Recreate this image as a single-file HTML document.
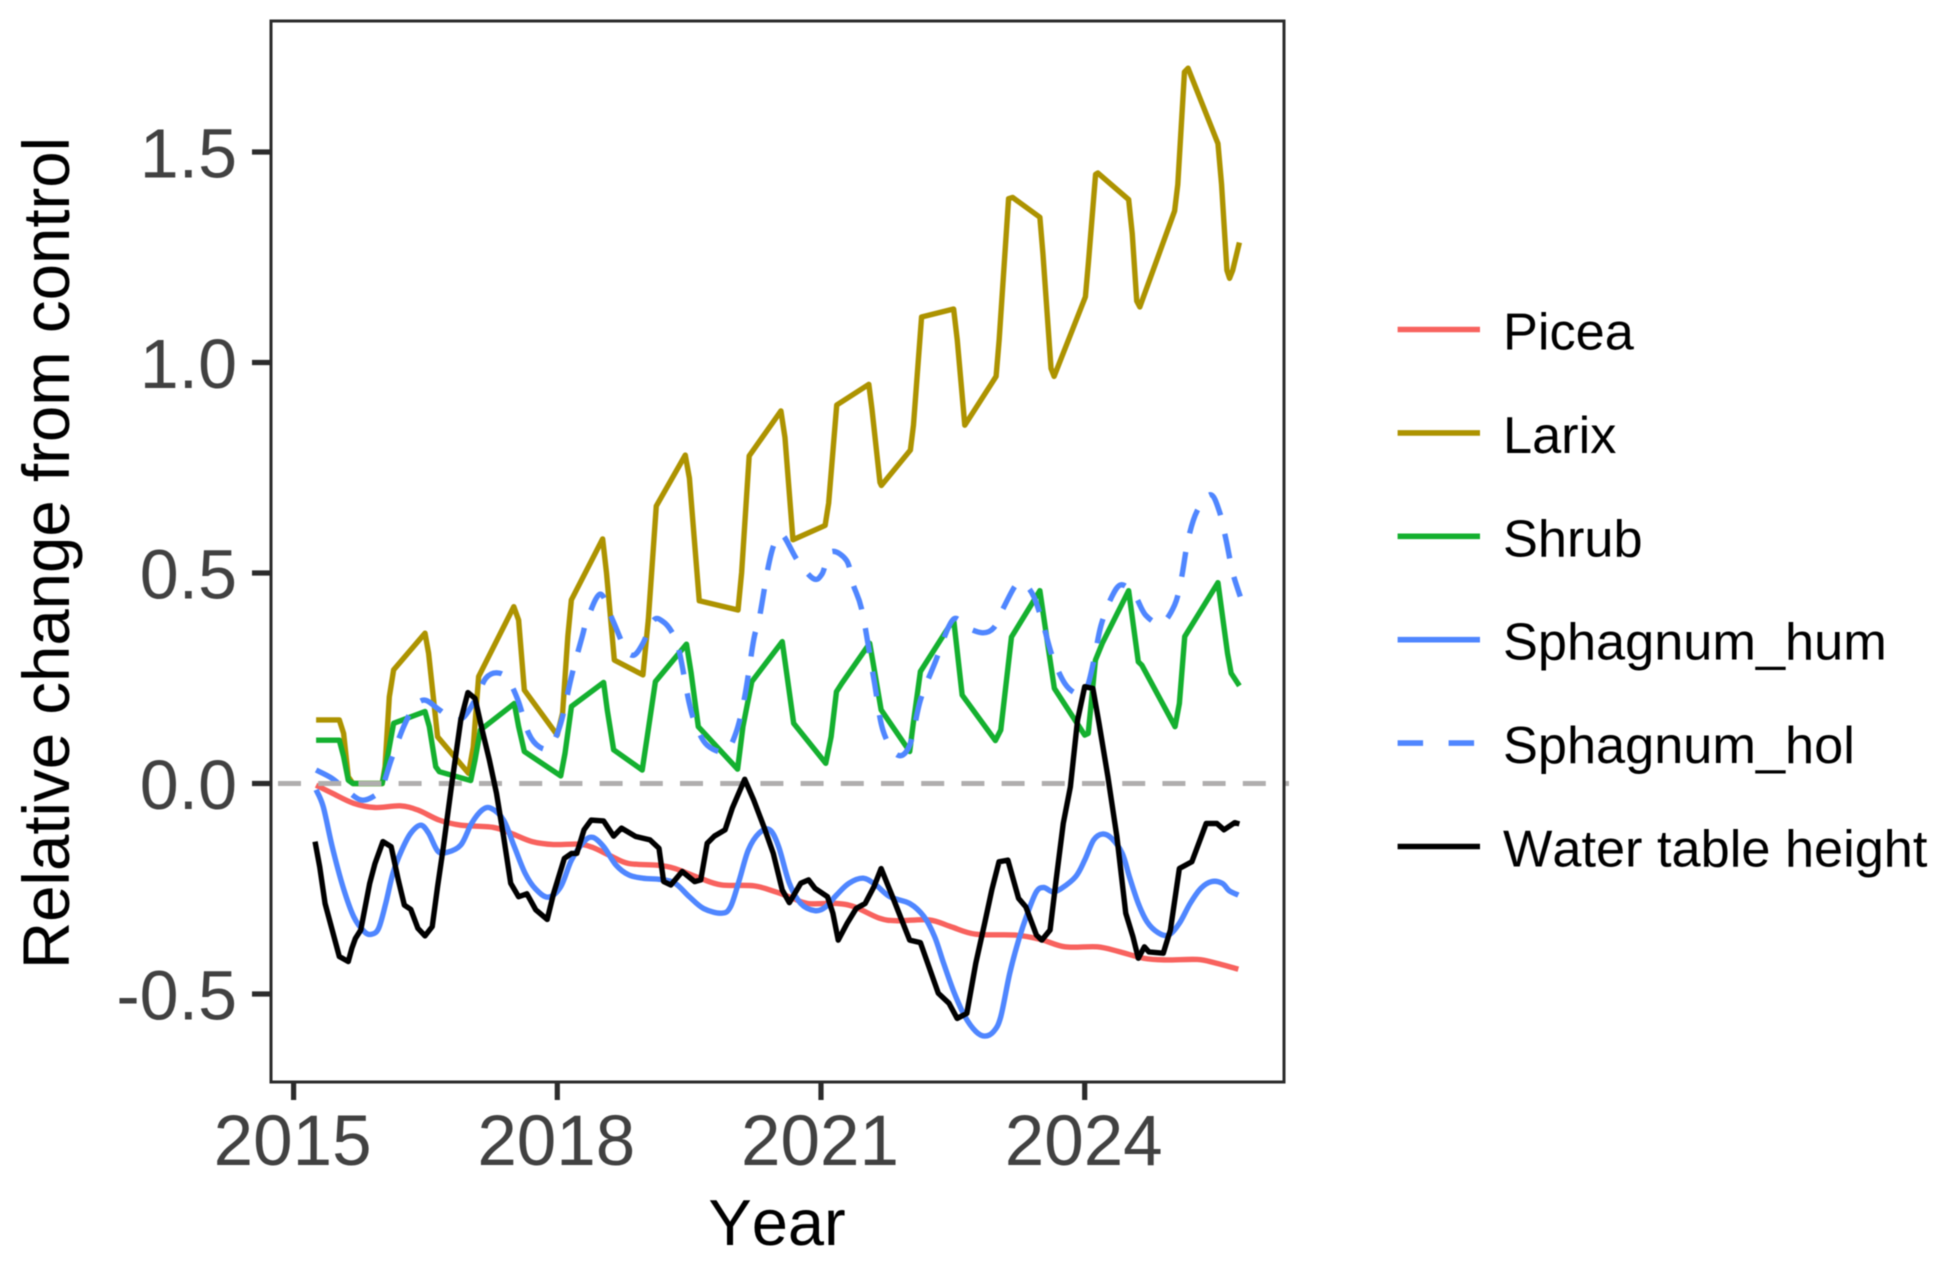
<!DOCTYPE html>
<html lang="en">
<head>
<meta charset="utf-8">
<title>Relative change from control by year</title>
<style>
html,body{margin:0;padding:0;background:#fff;width:1949px;height:1266px;overflow:hidden}
svg{display:block;font-family:"Liberation Sans",Arial,sans-serif;font-kerning:none;filter:blur(0.5px)}
</style>
</head>
<body>
<svg id="chart" xmlns="http://www.w3.org/2000/svg" width="1949" height="1266" viewBox="0 0 1949 1266">
  <rect x="0" y="0" width="1949" height="1266" fill="#fff"/>
  <g id="plot-series"></g>
  <rect x="271" y="21" width="1013" height="1061" fill="none" stroke="#2b2b2b" stroke-width="3"/>
  <g id="ticks"></g>
  <text transform="translate(69 553) rotate(-90)" text-anchor="middle" font-size="65.4" fill="#000">Relative change from control</text>
  <text x="777" y="1245" text-anchor="middle" font-size="65" fill="#000">Year</text>
  <g id="legend"></g>
</svg>
<script>
const xTickYears = [2015, 2018, 2021, 2024];
const yTickValues = [-0.5, 0, 0.5, 1, 1.5];
const yTickLabels = ["-0.5", "0.0", "0.5", "1.0", "1.5"];
const referenceValue = 0;

const piceaYears = [2015.256,2015.439,2015.683,2015.926,2016.211,2016.414,2016.658,2016.902,2017.267,2017.47,2017.714,2017.958,2018.243,2018.405,2018.608,2018.812,2019.137,2019.34,2019.624,2019.868,2020.234,2020.478,2020.648,2020.851,2021.176,2021.38,2021.664,2021.867,2022.232,2022.476,2022.761,2023.208,2023.492,2023.777,2024.142,2024.386,2024.67,2024.914,2025.28,2025.483,2025.748];
const piceaValues = [-0.004,-0.023,-0.047,-0.057,-0.053,-0.063,-0.087,-0.099,-0.104,-0.118,-0.138,-0.145,-0.144,-0.152,-0.172,-0.19,-0.194,-0.202,-0.225,-0.241,-0.243,-0.257,-0.27,-0.285,-0.285,-0.293,-0.32,-0.326,-0.324,-0.34,-0.358,-0.36,-0.37,-0.388,-0.388,-0.399,-0.415,-0.419,-0.418,-0.426,-0.441];

const larixYears = [2015.256,2015.52,2015.569,2015.622,2015.675,2016.008,2016.04,2016.089,2016.138,2016.495,2016.536,2016.638,2016.991,2017.044,2017.105,2017.505,2017.56,2017.625,2017.999,2018.06,2018.12,2018.16,2018.516,2018.56,2018.649,2018.974,2019.035,2019.1,2019.126,2019.456,2019.503,2019.615,2020.056,2020.097,2020.183,2020.544,2020.59,2020.681,2021.047,2021.087,2021.179,2021.544,2021.58,2021.671,2021.687,2022.017,2022.052,2022.144,2022.509,2022.55,2022.636,2022.992,2023.027,2023.134,2023.18,2023.49,2023.525,2023.617,2023.652,2024.008,2024.043,2024.124,2024.15,2024.5,2024.541,2024.592,2024.627,2025.023,2025.059,2025.135,2025.176,2025.516,2025.557,2025.618,2025.648,2025.684,2025.76];
const larixValues = [0.151,0.151,0.119,0.016,0,0,0.04,0.206,0.27,0.357,0.309,0.111,0.024,0.087,0.254,0.42,0.388,0.222,0.115,0.167,0.35,0.436,0.581,0.5,0.293,0.258,0.388,0.581,0.659,0.78,0.725,0.434,0.412,0.501,0.778,0.885,0.822,0.579,0.613,0.666,0.899,0.948,0.889,0.715,0.708,0.792,0.851,1.108,1.127,1.054,0.851,0.967,1.054,1.389,1.392,1.345,1.258,0.986,0.967,1.156,1.239,1.447,1.45,1.387,1.306,1.146,1.132,1.36,1.423,1.69,1.699,1.52,1.423,1.219,1.2,1.219,1.285];

const shrubYears = [2015.256,2015.52,2015.569,2015.622,2015.675,2016.008,2016.048,2016.138,2016.495,2016.544,2016.617,2016.658,2017.015,2017.064,2017.125,2017.511,2017.56,2017.625,2018.039,2018.088,2018.161,2018.527,2018.568,2018.641,2018.966,2019.023,2019.116,2019.47,2019.523,2019.604,2020.051,2020.112,2020.213,2020.559,2020.62,2020.689,2021.054,2021.115,2021.176,2021.237,2021.554,2021.594,2021.684,2022.009,2022.05,2022.131,2022.509,2022.606,2022.984,2023.045,2023.167,2023.49,2023.594,2023.655,2024,2024.04,2024.122,2024.2,2024.5,2024.61,2024.65,2025.028,2025.077,2025.138,2025.516,2025.625,2025.666,2025.76];
const shrubValues = [0.103,0.103,0.064,0.008,0,0,0.04,0.143,0.171,0.135,0.04,0.028,0.007,0.056,0.127,0.19,0.135,0.076,0.018,0.072,0.183,0.24,0.175,0.08,0.032,0.111,0.242,0.331,0.262,0.135,0.034,0.135,0.242,0.337,0.246,0.143,0.048,0.111,0.218,0.238,0.333,0.285,0.175,0.076,0.143,0.266,0.39,0.21,0.102,0.127,0.348,0.458,0.31,0.226,0.115,0.119,0.293,0.333,0.458,0.289,0.281,0.135,0.19,0.349,0.477,0.309,0.262,0.232];

const sphagnumHumYears = [2015.256,2015.337,2015.439,2015.561,2015.683,2015.805,2015.886,2015.967,2016.048,2016.13,2016.231,2016.333,2016.447,2016.536,2016.638,2016.739,2016.902,2017.024,2017.145,2017.247,2017.389,2017.511,2017.633,2017.755,2017.897,2018.039,2018.161,2018.304,2018.405,2018.527,2018.669,2018.812,2018.974,2019.177,2019.34,2019.502,2019.665,2019.868,2019.97,2020.071,2020.173,2020.295,2020.417,2020.518,2020.64,2020.77,2020.932,2021.054,2021.176,2021.318,2021.481,2021.623,2021.785,2022.009,2022.171,2022.293,2022.395,2022.517,2022.639,2022.761,2022.862,2022.964,2023.045,2023.147,2023.248,2023.35,2023.451,2023.533,2023.634,2023.736,2023.898,2024,2024.102,2024.203,2024.305,2024.427,2024.508,2024.61,2024.711,2024.833,2024.955,2025.077,2025.199,2025.321,2025.443,2025.564,2025.646,2025.748];
const sphagnumHumValues = [-0.015,-0.055,-0.15,-0.245,-0.316,-0.352,-0.358,-0.344,-0.285,-0.213,-0.158,-0.118,-0.099,-0.118,-0.16,-0.164,-0.146,-0.095,-0.063,-0.059,-0.087,-0.15,-0.213,-0.251,-0.27,-0.245,-0.182,-0.138,-0.128,-0.15,-0.194,-0.217,-0.225,-0.228,-0.237,-0.269,-0.297,-0.308,-0.293,-0.229,-0.158,-0.118,-0.11,-0.15,-0.237,-0.285,-0.302,-0.293,-0.265,-0.237,-0.225,-0.241,-0.269,-0.285,-0.316,-0.364,-0.427,-0.498,-0.554,-0.589,-0.6,-0.589,-0.554,-0.451,-0.372,-0.308,-0.257,-0.247,-0.257,-0.249,-0.221,-0.182,-0.134,-0.12,-0.13,-0.166,-0.221,-0.285,-0.329,-0.354,-0.36,-0.332,-0.285,-0.249,-0.233,-0.237,-0.255,-0.265];

const sphagnumHolYears = [2015.256,2015.439,2015.601,2015.764,2015.906,2016.008,2016.11,2016.252,2016.373,2016.495,2016.658,2016.82,2016.942,2017.084,2017.186,2017.308,2017.43,2017.552,2017.674,2017.796,2017.918,2018.039,2018.161,2018.283,2018.338,2018.49,2018.63,2018.771,2018.872,2018.974,2019.096,2019.2,2019.3,2019.38,2019.502,2019.583,2019.705,2019.908,2020.03,2020.132,2020.234,2020.3,2020.401,2020.478,2020.564,2020.732,2020.91,2021.01,2021.113,2021.29,2021.367,2021.468,2021.603,2021.704,2021.867,2022.009,2022.131,2022.293,2022.497,2022.661,2022.84,2022.966,2023.068,2023.22,2023.32,2023.423,2023.531,2023.634,2023.776,2023.919,2024.02,2024.102,2024.185,2024.3,2024.414,2024.566,2024.693,2024.871,2025.023,2025.1,2025.176,2025.278,2025.43,2025.531,2025.608,2025.684,2025.77];
const sphagnumHolValues = [0.032,0.012,-0.016,-0.039,-0.031,-0.008,0.056,0.135,0.182,0.198,0.175,0.152,0.159,0.206,0.25,0.263,0.25,0.198,0.119,0.087,0.087,0.143,0.254,0.349,0.388,0.45,0.388,0.321,0.305,0.333,0.388,0.385,0.361,0.321,0.19,0.135,0.091,0.076,0.119,0.206,0.341,0.395,0.516,0.574,0.59,0.53,0.487,0.497,0.55,0.53,0.472,0.409,0.246,0.127,0.068,0.091,0.198,0.285,0.388,0.37,0.358,0.37,0.414,0.472,0.472,0.443,0.375,0.301,0.237,0.213,0.225,0.29,0.375,0.44,0.472,0.448,0.4,0.38,0.424,0.487,0.579,0.647,0.686,0.647,0.579,0.501,0.444];

const waterYears = [2015.244,2015.297,2015.358,2015.439,2015.52,2015.622,2015.662,2015.703,2015.764,2015.866,2015.926,2016.016,2016.11,2016.191,2016.26,2016.333,2016.414,2016.495,2016.577,2016.638,2016.699,2016.8,2016.902,2016.983,2017.064,2017.145,2017.227,2017.308,2017.389,2017.47,2017.56,2017.654,2017.755,2017.885,2017.958,2018.08,2018.161,2018.222,2018.304,2018.385,2018.527,2018.641,2018.73,2018.893,2019.055,2019.157,2019.21,2019.291,2019.421,2019.563,2019.632,2019.705,2019.787,2019.909,2019.99,2020.132,2020.234,2020.356,2020.457,2020.559,2020.64,2020.77,2020.859,2020.932,2021.074,2021.135,2021.196,2021.298,2021.4,2021.502,2021.603,2021.684,2021.806,2022.009,2022.131,2022.334,2022.456,2022.549,2022.659,2022.761,2022.862,2022.943,2023.025,2023.126,2023.248,2023.33,2023.451,2023.512,2023.606,2023.675,2023.756,2023.837,2023.919,2024,2024.093,2024.163,2024.264,2024.366,2024.467,2024.549,2024.61,2024.679,2024.731,2024.894,2024.975,2025.077,2025.219,2025.382,2025.504,2025.585,2025.707,2025.76];
const waterValues = [-0.138,-0.198,-0.285,-0.348,-0.411,-0.423,-0.392,-0.368,-0.348,-0.237,-0.19,-0.138,-0.15,-0.229,-0.289,-0.299,-0.344,-0.362,-0.34,-0.245,-0.158,0,0.151,0.216,0.202,0.127,0.056,-0.023,-0.126,-0.237,-0.269,-0.262,-0.3,-0.323,-0.261,-0.178,-0.166,-0.166,-0.11,-0.087,-0.089,-0.125,-0.106,-0.126,-0.134,-0.154,-0.233,-0.241,-0.209,-0.233,-0.229,-0.142,-0.125,-0.11,-0.059,0.01,-0.039,-0.106,-0.166,-0.253,-0.283,-0.237,-0.229,-0.249,-0.269,-0.308,-0.372,-0.332,-0.297,-0.285,-0.245,-0.202,-0.265,-0.372,-0.378,-0.498,-0.522,-0.558,-0.546,-0.427,-0.332,-0.253,-0.186,-0.182,-0.273,-0.293,-0.36,-0.372,-0.348,-0.229,-0.095,-0.008,0.151,0.23,0.226,0.143,0.016,-0.126,-0.308,-0.364,-0.415,-0.388,-0.4,-0.403,-0.348,-0.202,-0.186,-0.095,-0.095,-0.11,-0.093,-0.096];

const legendLabels = ["Picea", "Larix", "Shrub", "Sphagnum_hum", "Sphagnum_hol", "Water table height"];

const SVGNS = "http://www.w3.org/2000/svg";
function xScale(year) { return 293.6 + (year - 2015) * 87.9; }
function yScale(value) { return 783.5 - value * 421; }

function linePath(years, values) {
  let d = "";
  for (let i = 0; i < years.length; i++) {
    d += (i ? "L" : "M") + xScale(years[i]).toFixed(2) + " " + yScale(values[i]).toFixed(2);
  }
  return d;
}
function smoothPath(years, values) {
  const px = years.map(xScale);
  const py = values.map(yScale);
  let d = "M" + px[0].toFixed(2) + " " + py[0].toFixed(2);
  for (let i = 0; i < px.length - 1; i++) {
    const a = Math.max(i - 1, 0);
    const b = Math.min(i + 2, px.length - 1);
    const c1x = px[i] + (px[i + 1] - px[a]) / 6;
    const c1y = py[i] + (py[i + 1] - py[a]) / 6;
    const c2x = px[i + 1] - (px[b] - px[i]) / 6;
    const c2y = py[i + 1] - (py[b] - py[i]) / 6;
    d += "C" + c1x.toFixed(2) + " " + c1y.toFixed(2) + " " + c2x.toFixed(2) + " " + c2y.toFixed(2) + " " + px[i + 1].toFixed(2) + " " + py[i + 1].toFixed(2);
  }
  return d;
}
function makeSeriesPath(d, color, dash) {
  const el = document.createElementNS(SVGNS, "path");
  el.setAttribute("d", d);
  el.setAttribute("fill", "none");
  el.setAttribute("stroke", color);
  el.setAttribute("stroke-width", "5.4");
  el.setAttribute("stroke-linejoin", "round");
  if (dash) el.setAttribute("stroke-dasharray", dash);
  return el;
}

const plot = document.getElementById("plot-series");
const colorPicea = "#f8625e";
const colorLarix = "#ad9300";
const colorShrub = "#14b02f";
const colorSphagnum = "#4f86ff";
const colorWater = "#000000";

const piceaLine = makeSeriesPath(smoothPath(piceaYears, piceaValues), colorPicea);


plot.appendChild(piceaLine);

const larixLine = makeSeriesPath(linePath(larixYears, larixValues), colorLarix);


plot.appendChild(larixLine);

const shrubLine = makeSeriesPath(linePath(shrubYears, shrubValues), colorShrub);


plot.appendChild(shrubLine);

const humLine = makeSeriesPath(smoothPath(sphagnumHumYears, sphagnumHumValues), colorSphagnum);


plot.appendChild(humLine);

const holLine = makeSeriesPath(smoothPath(sphagnumHolYears, sphagnumHolValues), colorSphagnum, "25 19");


plot.appendChild(holLine);

const refLine = document.createElementNS(SVGNS, "line");


refLine.setAttribute("x1", "278");
refLine.setAttribute("x2", "1289");
refLine.setAttribute("y1", yScale(referenceValue));
refLine.setAttribute("y2", yScale(referenceValue));
refLine.setAttribute("stroke", "#b0aeae");
refLine.setAttribute("stroke-width", "5");
refLine.setAttribute("stroke-dasharray", "23 17.2");
plot.appendChild(refLine);

const waterLine = makeSeriesPath(linePath(waterYears, waterValues), colorWater);


plot.appendChild(waterLine);

const ticks = document.getElementById("ticks");
xTickYears.forEach(function (yr) {
  const t = document.createElementNS(SVGNS, "line");
  
  
  t.setAttribute("x1", xScale(yr));
  t.setAttribute("x2", xScale(yr));
  t.setAttribute("y1", "1082");
  t.setAttribute("y2", "1100");
  t.setAttribute("stroke", "#2b2b2b");
  t.setAttribute("stroke-width", "5.2");
  ticks.appendChild(t);
  const l = document.createElementNS(SVGNS, "text");
  
  
  l.setAttribute("x", xScale(yr) - 1);
  l.setAttribute("y", "1165");
  l.setAttribute("text-anchor", "middle");
  l.setAttribute("font-size", "71");
  l.setAttribute("fill", "#414141");
  l.textContent = String(yr);
  ticks.appendChild(l);
});
yTickValues.forEach(function (v, i) {
  const t = document.createElementNS(SVGNS, "line");
  
  
  t.setAttribute("x1", "252");
  t.setAttribute("x2", "271");
  t.setAttribute("y1", yScale(v));
  t.setAttribute("y2", yScale(v));
  t.setAttribute("stroke", "#2b2b2b");
  t.setAttribute("stroke-width", "5.2");
  ticks.appendChild(t);
  const l = document.createElementNS(SVGNS, "text");
  
  
  l.setAttribute("x", "237");
  l.setAttribute("y", yScale(v) + 25.5);
  l.setAttribute("text-anchor", "end");
  l.setAttribute("font-size", "70");
  l.setAttribute("fill", "#414141");
  l.textContent = yTickLabels[i];
  ticks.appendChild(l);
});

const legend = document.getElementById("legend");
const legendColors = [colorPicea, colorLarix, colorShrub, colorSphagnum, colorSphagnum, colorWater];
legendLabels.forEach(function (label, i) {
  const slug = label.toLowerCase().replace(/[^a-z]+/g, "-");
  const rowY = 329.5 + i * 103.4;
  const key = document.createElementNS(SVGNS, "line");
  
  
  key.setAttribute("x1", "1397.6");
  key.setAttribute("x2", "1480");
  key.setAttribute("y1", rowY);
  key.setAttribute("y2", rowY);
  key.setAttribute("stroke", legendColors[i]);
  key.setAttribute("stroke-width", "5.6");
  if (label === "Sphagnum_hol") key.setAttribute("stroke-dasharray", "25.5 25.5");
  legend.appendChild(key);
  const txt = document.createElementNS(SVGNS, "text");
  
  
  txt.setAttribute("x", "1503");
  txt.setAttribute("y", rowY + 20);
  txt.setAttribute("font-size", "52.3");
  txt.setAttribute("fill", "#000");
  txt.textContent = label;
  legend.appendChild(txt);
});
</script>
</body>
</html>
